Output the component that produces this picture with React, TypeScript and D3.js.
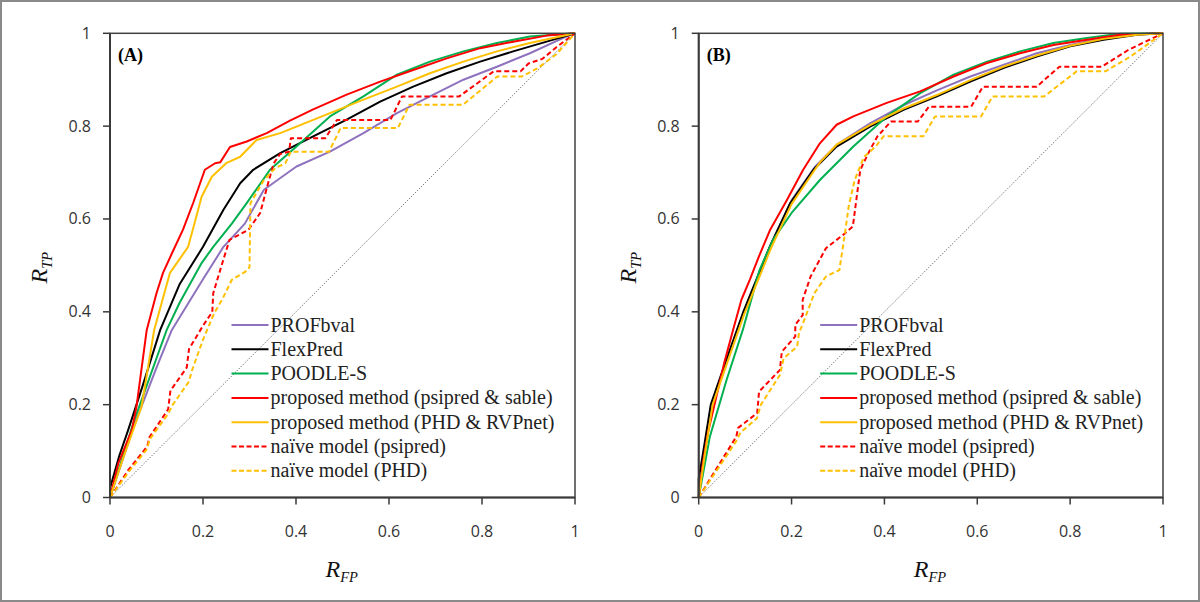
import React from "react";
import * as d3 from "d3";

type P = [number, number];

const TICKS = [0, 0.2, 0.4, 0.6, 0.8, 1];
const TICK_LABELS = ["0", "0.2", "0.4", "0.6", "0.8", "1"];
const PANEL_LABELS = ["(A)", "(B)"];
const LEGEND_LABELS = [
  "PROFbval",
  "FlexPred",
  "POODLE-S",
  "proposed method (psipred & sable)",
  "proposed method (PHD & RVPnet)",
  "naïve model (psipred)",
  "naïve model (PHD)",
];
const COLORS = ["#8E72BE", "#000000", "#00B050", "#FF0000", "#FFC000", "#FF0000", "#FFC000"];
const DASHED = [false, false, false, false, false, true, true];

// Panel A
const A_PROFbval: P[] = [[0,0],[0.05,0.15],[0.1,0.28],[0.133,0.361],[0.2,0.47],[0.244,0.54],[0.29,0.59],[0.331,0.663],[0.401,0.713],[0.473,0.745],[0.545,0.785],[0.617,0.828],[0.688,0.864],[0.76,0.9],[0.832,0.928],[0.903,0.957],[0.975,0.99],[1,1]];
const A_FlexPred: P[] = [[0,0.02],[0.02,0.09],[0.039,0.145],[0.07,0.24],[0.108,0.361],[0.15,0.46],[0.2,0.54],[0.244,0.62],[0.28,0.677],[0.308,0.706],[0.366,0.742],[0.437,0.778],[0.509,0.814],[0.581,0.853],[0.652,0.885],[0.724,0.914],[0.796,0.939],[0.867,0.961],[0.939,0.982],[1,1]];
const A_POODLE: P[] = [[0,0],[0.05,0.16],[0.1,0.3],[0.122,0.361],[0.15,0.42],[0.197,0.505],[0.222,0.54],[0.262,0.59],[0.294,0.634],[0.344,0.706],[0.401,0.756],[0.473,0.821],[0.545,0.864],[0.617,0.911],[0.688,0.939],[0.76,0.961],[0.832,0.979],[0.903,0.993],[1,1]];
const A_PropPsipred: P[] = [[0,0],[0.018,0.074],[0.047,0.145],[0.057,0.196],[0.079,0.361],[0.1,0.44],[0.114,0.484],[0.135,0.53],[0.157,0.577],[0.179,0.635],[0.204,0.706],[0.226,0.72],[0.237,0.722],[0.258,0.755],[0.294,0.767],[0.337,0.785],[0.387,0.812],[0.437,0.836],[0.509,0.868],[0.581,0.896],[0.652,0.921],[0.724,0.946],[0.796,0.968],[0.867,0.982],[0.939,0.995],[1,1]];
const A_PropPHD: P[] = [[0,0],[0.03,0.09],[0.068,0.196],[0.095,0.361],[0.129,0.484],[0.168,0.54],[0.178,0.577],[0.197,0.648],[0.219,0.691],[0.251,0.721],[0.28,0.734],[0.315,0.77],[0.366,0.785],[0.401,0.799],[0.473,0.828],[0.545,0.857],[0.617,0.885],[0.688,0.914],[0.76,0.939],[0.832,0.961],[0.903,0.979],[1,1]];
const A_NaivePsipred: P[] = [[0,0],[0.04,0.06],[0.08,0.11],[0.085,0.13],[0.125,0.19],[0.13,0.23],[0.165,0.28],[0.17,0.32],[0.2,0.37],[0.22,0.4],[0.222,0.44],[0.24,0.5],[0.257,0.555],[0.298,0.577],[0.323,0.613],[0.34,0.677],[0.352,0.72],[0.366,0.74],[0.385,0.745],[0.389,0.774],[0.463,0.774],[0.488,0.813],[0.603,0.813],[0.628,0.864],[0.751,0.864],[0.825,0.918],[0.883,0.918],[0.9,0.935],[0.93,0.945],[0.96,0.97],[1,1]];
const A_NaivePHD: P[] = [[0,0],[0.04,0.055],[0.08,0.105],[0.085,0.125],[0.125,0.18],[0.135,0.2],[0.17,0.25],[0.175,0.27],[0.2,0.34],[0.224,0.397],[0.241,0.426],[0.262,0.469],[0.297,0.49],[0.3,0.497],[0.302,0.634],[0.331,0.684],[0.356,0.71],[0.377,0.72],[0.389,0.745],[0.471,0.745],[0.496,0.796],[0.619,0.796],[0.644,0.846],[0.759,0.846],[0.833,0.907],[0.886,0.907],[0.92,0.925],[0.96,0.955],[1,1]];

// Panel B
const B_PROFbval: P[] = [[0,0],[0.012,0.09],[0.028,0.2],[0.055,0.28],[0.097,0.4],[0.155,0.545],[0.2,0.64],[0.25,0.712],[0.266,0.728],[0.3,0.762],[0.369,0.806],[0.441,0.845],[0.513,0.877],[0.585,0.907],[0.656,0.932],[0.728,0.957],[0.8,0.975],[0.872,0.99],[0.944,0.998],[1,1]];
const B_FlexPred: P[] = [[0,0],[0,0.04],[0.01,0.1],[0.026,0.2],[0.052,0.275],[0.095,0.397],[0.153,0.54],[0.197,0.634],[0.247,0.706],[0.261,0.72],[0.297,0.756],[0.369,0.799],[0.441,0.835],[0.513,0.864],[0.585,0.896],[0.656,0.925],[0.728,0.95],[0.8,0.972],[0.872,0.986],[0.944,0.997],[1,1]];
const B_POODLE: P[] = [[0,0],[0.024,0.131],[0.06,0.253],[0.095,0.361],[0.131,0.49],[0.16,0.555],[0.2,0.613],[0.261,0.684],[0.333,0.756],[0.405,0.821],[0.477,0.871],[0.549,0.911],[0.621,0.939],[0.692,0.961],[0.764,0.979],[0.836,0.99],[0.908,0.999],[1,1]];
const B_PropPsipred: P[] = [[0,0],[0.009,0.074],[0.02,0.14],[0.038,0.217],[0.055,0.29],[0.074,0.361],[0.092,0.426],[0.11,0.469],[0.13,0.52],[0.154,0.577],[0.19,0.641],[0.225,0.706],[0.261,0.763],[0.297,0.803],[0.333,0.821],[0.405,0.85],[0.477,0.875],[0.549,0.907],[0.621,0.936],[0.692,0.957],[0.764,0.975],[0.836,0.986],[0.908,0.997],[1,1]];
const B_PropPHD: P[] = [[0,0],[0.012,0.085],[0.03,0.2],[0.056,0.275],[0.098,0.395],[0.157,0.54],[0.2,0.632],[0.25,0.706],[0.263,0.724],[0.297,0.76],[0.369,0.802],[0.441,0.838],[0.513,0.867],[0.585,0.899],[0.656,0.928],[0.728,0.952],[0.8,0.973],[0.872,0.988],[0.944,0.997],[1,1]];
const B_NaivePsipred: P[] = [[0,0],[0.04,0.065],[0.081,0.131],[0.085,0.15],[0.126,0.182],[0.13,0.228],[0.175,0.275],[0.179,0.314],[0.208,0.347],[0.208,0.372],[0.224,0.393],[0.224,0.426],[0.241,0.476],[0.274,0.537],[0.315,0.569],[0.332,0.584],[0.348,0.706],[0.369,0.749],[0.385,0.778],[0.414,0.81],[0.472,0.81],[0.496,0.842],[0.587,0.842],[0.612,0.885],[0.728,0.885],[0.777,0.928],[0.868,0.928],[0.925,0.964],[1,1]];
const B_NaivePHD: P[] = [[0,0],[0.04,0.06],[0.08,0.12],[0.09,0.14],[0.125,0.17],[0.134,0.2],[0.175,0.264],[0.183,0.3],[0.212,0.325],[0.216,0.354],[0.233,0.397],[0.249,0.44],[0.274,0.476],[0.303,0.49],[0.315,0.569],[0.323,0.627],[0.336,0.684],[0.356,0.734],[0.381,0.756],[0.398,0.778],[0.484,0.778],[0.509,0.821],[0.608,0.821],[0.633,0.864],[0.744,0.864],[0.814,0.918],[0.876,0.918],[0.93,0.95],[1,1]];

const PANEL_A_SERIES = [A_PROFbval, A_FlexPred, A_POODLE, A_PropPsipred, A_PropPHD, A_NaivePsipred, A_NaivePHD];
const PANEL_B_SERIES = [B_PROFbval, B_FlexPred, B_POODLE, B_PropPsipred, B_PropPHD, B_NaivePsipred, B_NaivePHD];

const PANELS = [
  { label: PANEL_LABELS[0], left: 110, right: 575, series: PANEL_A_SERIES },
  { label: PANEL_LABELS[1], left: 698.7, right: 1163, series: PANEL_B_SERIES },
];
const TOP = 33.3;
const BOTTOM = 497.5;

const SANS = "'Open Sans', 'DejaVu Sans', sans-serif";
const SERIF = "'Liberation Serif', 'Times New Roman', 'DejaVu Serif', serif";

function Panel({ p }: { p: (typeof PANELS)[number] }) {
  const x = d3.scaleLinear().domain([0, 1]).range([p.left, p.right]);
  const y = d3.scaleLinear().domain([0, 1]).range([BOTTOM, TOP]);
  const line = d3
    .line<P>()
    .x((d) => x(d[0]))
    .y((d) => y(d[1]));
  const legX = x(0) + 121.5;
  const legY0 = 325;
  const legStep = 24.3;
  const titleCX = (p.left + p.right) / 2;
  return (
    <g>
      <path d={line([[0, 0], [1, 1]])!} stroke="#555" strokeWidth={0.9} strokeDasharray="1.2,1.6" fill="none" />
      {p.series.map((s, i) => (
        <path
          key={i}
          d={line(s)!}
          fill="none"
          stroke={COLORS[i]}
          strokeWidth={2}
          strokeLinejoin="round"
          strokeDasharray={DASHED[i] ? "5,3" : undefined}
        />
      ))}
      <rect x={x(0)} y={y(1)} width={x(1) - x(0)} height={y(0) - y(1)} fill="none" stroke="#404040" strokeWidth={1.5} />
      <line x1={x(0)} x2={x(0)} y1={y(1)} y2={y(0)} stroke="#3a3a3a" strokeWidth={2} />
      <line x1={x(0)} x2={x(1)} y1={y(0)} y2={y(0)} stroke="#3a3a3a" strokeWidth={2} />
      {TICKS.map((t, i) => (
        <g key={"x" + i}>
          <line x1={x(t)} x2={x(t)} y1={y(0)} y2={y(0) + 7} stroke="#3a3a3a" strokeWidth={1.5} />
          <text x={x(t)} y={537} textAnchor="middle" fontFamily={SANS} fontSize={16} fill="#333">
            {TICK_LABELS[i]}
          </text>
        </g>
      ))}
      {TICKS.map((t, i) => (
        <g key={"y" + i}>
          <line x1={x(0) - 7} x2={x(0)} y1={y(t)} y2={y(t)} stroke="#3a3a3a" strokeWidth={1.5} />
          <text x={x(0) - 19} y={y(t) + 5.5} textAnchor="end" fontFamily={SANS} fontSize={16} fill="#333">
            {TICK_LABELS[i]}
          </text>
        </g>
      ))}
      <text x={x(0) + 8} y={61} fontFamily={SERIF} fontWeight="bold" fontSize={18} fill="#000">
        {p.label}
      </text>
      <text x={titleCX - 17} y={577} fontFamily={SERIF} fontStyle="italic" fontSize={24} fill="#111">
        R<tspan fontSize={14.5} dy={5}>FP</tspan>
      </text>
      <text
        transform={`translate(${x(0) - 63},${(TOP + BOTTOM) / 2 + 18}) rotate(-90)`}
        fontFamily={SERIF}
        fontStyle="italic"
        fontSize={24}
        fill="#111"
      >
        R<tspan fontSize={14.5} dy={5}>TP</tspan>
      </text>
      {LEGEND_LABELS.map((lab, i) => (
        <g key={"l" + i}>
          <line
            x1={legX}
            x2={legX + 37}
            y1={legY0 + i * legStep}
            y2={legY0 + i * legStep}
            stroke={COLORS[i]}
            strokeWidth={2}
            strokeDasharray={DASHED[i] ? "5,2.5" : undefined}
          />
          <text x={legX + 39} y={legY0 + i * legStep + 6.5} fontFamily={SERIF} fontSize={20} fill="#222">
            {lab}
          </text>
        </g>
      ))}
    </g>
  );
}

export default function App() {
  return (
    <svg
      width={1200}
      height={602}
      style={{ position: "absolute", left: 0, top: 0, background: "#fff" }}
    >
      <rect x={0} y={0} width={1200} height={602} fill="#fff" />
      {PANELS.map((p, i) => (
        <Panel key={i} p={p} />
      ))}
      <rect x={1} y={1} width={1198} height={600} fill="none" stroke="#8a8a8a" strokeWidth={2} />
    </svg>
  );
}
